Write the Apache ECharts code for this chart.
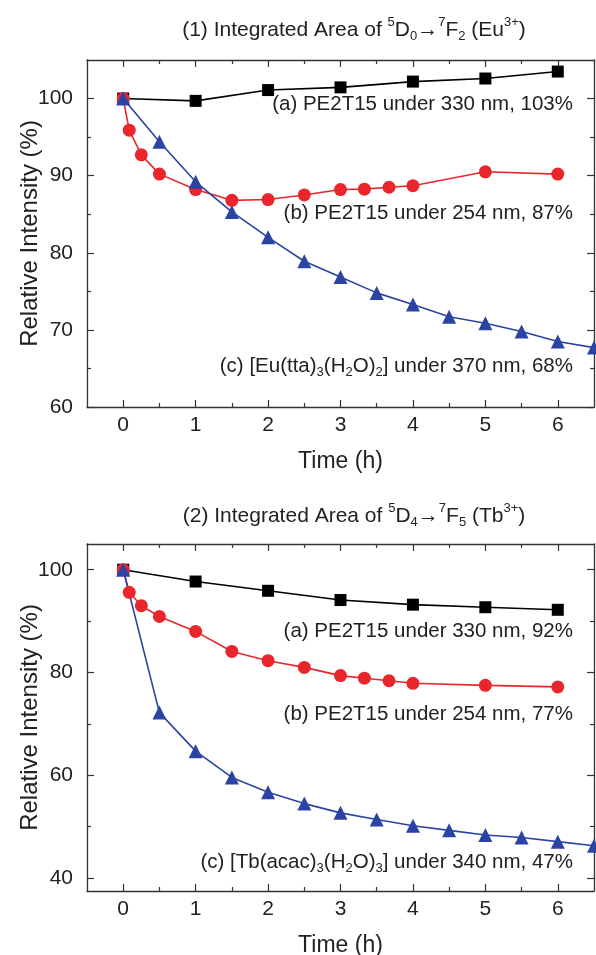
<!DOCTYPE html>
<html>
<head>
<meta charset="UTF-8">
<title></title>
<script src="https://cdn.jsdelivr.net/npm/echarts@6/dist/echarts.min.js"></script>
<style>
  html, body { margin: 0; padding: 0; background: #fff; }
</style>
</head>
<body>
<div id="main" style="width: 596px;height:955px;"></div>
<script type="text/javascript">
// time points (h)
var timeA = [0, 1, 2, 3, 4, 5, 6];
var timeB = [0, 0.083, 0.25, 0.5, 1, 1.5, 2, 2.5, 3, 3.33, 3.67, 4, 5, 6];
var timeC = [0, 0.5, 1, 1.5, 2, 2.5, 3, 3.5, 4, 4.5, 5, 5.5, 6, 6.5];

// (1) Eu3+ 5D0->7F2
var euA = [100, 99.7, 101.1, 101.45, 102.2, 102.6, 103.5];
var euB = [100, 95.9, 92.7, 90.2, 88.2, 86.8, 86.9, 87.5, 88.2, 88.25, 88.5, 88.7, 90.5, 90.2];
var euC = [100, 94.4, 89.2, 85.3, 82.0, 78.9, 76.85, 74.8, 73.3, 71.7, 70.85, 69.8, 68.5, 67.7];

// (2) Tb3+ 5D4->7F5
var tbA = [100, 97.7, 95.9, 94.1, 93.2, 92.7, 92.2];
var tbB = [100, 95.6, 93.0, 90.9, 88.0, 84.1, 82.3, 81.0, 79.4, 78.9, 78.4, 77.9, 77.5, 77.2];
var tbC = [100, 72.2, 64.7, 59.6, 56.7, 54.5, 52.7, 51.4, 50.2, 49.3, 48.4, 47.9, 47.1, 46.3];

// ticks
var xMajor = [0, 1, 2, 3, 4, 5, 6];
var xMinor = [0.5, 1.5, 2.5, 3.5, 4.5, 5.5];
var yMajor1 = [60, 70, 80, 90, 100];
var yMinor1 = [65, 75, 85, 95];
var yMajor2 = [40, 60, 80, 100];
var yMinor2 = [50, 70, 90];

var FONT = 'Liberation Sans, Arial, sans-serif';
var AX = '#333';

function pairs(xs, ys) {
  var out = [];
  for (var i = 0; i < xs.length; i++) out.push([xs[i], ys[i]]);
  return out;
}

function xAxes(g) {
  var base = { gridIndex: g, type: 'value', min: -0.5, max: 6.5, splitLine: { show: false } };
  var list = [];
  [['bottom', true], ['bottom', false], ['top', true], ['top', false]].forEach(function (p) {
    var major = p[1];
    var a = Object.assign({}, base, {
      position: p[0],
      axisLine: { show: major, onZero: false, lineStyle: { color: AX, width: 1.3 } },
      axisTick: { show: true, inside: true, length: major ? 7 : 4, customValues: major ? xMajor : xMinor, lineStyle: { color: AX, width: 1.2 } },
      axisLabel: { show: false }
    });
    if (major && p[0] === 'bottom') {
      a.axisLabel = { show: true, customValues: xMajor, fontSize: 21, fontFamily: FONT, color: '#222', margin: 8 };
      a.name = 'Time (h)';
      a.nameLocation = 'middle';
      a.nameGap = 43;
      a.nameMoveOverlap = false;
      a.nameTextStyle = { fontSize: 23, fontFamily: FONT, color: '#222' };
    }
    list.push(a);
  });
  return list;
}

function yAxes(g, min, max, major, minor) {
  var list = [];
  [['left', true], ['left', false], ['right', true], ['right', false]].forEach(function (p) {
    var isMajor = p[1];
    var a = {
      gridIndex: g, type: 'value', min: min, max: max, position: p[0],
      splitLine: { show: false },
      axisLine: { show: isMajor, onZero: false, lineStyle: { color: AX, width: 1.3 } },
      axisTick: { show: true, inside: true, length: isMajor ? 7 : 4, customValues: isMajor ? major : minor, lineStyle: { color: AX, width: 1.2 } },
      axisLabel: { show: false }
    };
    if (isMajor && p[0] === 'left') {
      a.axisLabel = { show: true, customValues: major, fontSize: 21, fontFamily: FONT, color: '#222', margin: 14 };
      a.name = 'Relative Intensity (%)';
      a.nameLocation = 'middle';
      a.nameGap = 45;
      a.nameMoveOverlap = false;
      a.nameTextStyle = { fontSize: 24, fontFamily: FONT, color: '#222' };
    }
    list.push(a);
  });
  return list;
}

function line(g, xs, ys, sym, size, color) {
  return {
    type: 'line', xAxisIndex: g * 4, yAxisIndex: g * 4,
    data: pairs(xs, ys),
    symbol: sym, symbolSize: size, showAllSymbol: true,
    itemStyle: { color: color, borderWidth: 0 },
    lineStyle: { color: color, width: 1.6 }
  };
}

var rich = {
  sup: { fontSize: 13, fontFamily: FONT, fill: '#222', padding: [0, 0, 15, 0] },
  sub: { fontSize: 13, fontFamily: FONT, fill: '#222', padding: [12, 0, 0, 0] }
};

function label(x, y, text, align, size) {
  return {
    type: 'text', x: x, y: y, silent: true,
    style: {
      text: text, rich: rich, align: align, verticalAlign: 'middle',
      fontSize: size, fontFamily: FONT, fill: '#222'
    }
  };
}

var myChart = echarts.init(document.getElementById('main'), null, { renderer: 'canvas' });

myChart.setOption({
  animation: false,
  backgroundColor: '#fff',
  grid: [
    { left: 87, right: 2, top: 60, height: 347, containLabel: false, outerBoundsMode: 'none' },
    { left: 87, right: 2, top: 544, height: 347, containLabel: false, outerBoundsMode: 'none' }
  ],
  xAxis: xAxes(0).concat(xAxes(1)),
  yAxis: yAxes(0, 60, 105, yMajor1, yMinor1).concat(yAxes(1, 37.5, 105, yMajor2, yMinor2)),
  series: [
    line(0, timeA, euA, 'rect', 12, '#000000'),
    line(0, timeB, euB, 'circle', 13, '#e8262b'),
    line(0, timeC, euC, 'triangle', 14, '#2b44a3'),
    line(1, timeA, tbA, 'rect', 12, '#000000'),
    line(1, timeB, tbB, 'circle', 13, '#e8262b'),
    line(1, timeC, tbC, 'triangle', 14, '#2b44a3')
  ],
  graphic: [
    label(354, 30, '(1) Integrated Area of {sup|5}D{sub|0}\u2192{sup|7}F{sub|2} (Eu{sup|3+})', 'center', 21),
    label(573, 104, '(a) PE2T15 under 330 nm, 103%', 'right', 20.5),
    label(573, 213, '(b) PE2T15 under 254 nm, 87%', 'right', 20.5),
    label(573, 366, '(c) [Eu(tta){sub|3}(H{sub|2}O){sub|2}] under 370 nm, 68%', 'right', 20.5),
    label(354, 516, '(2) Integrated Area of {sup|5}D{sub|4}\u2192{sup|7}F{sub|5} (Tb{sup|3+})', 'center', 21),
    label(573, 631, '(a) PE2T15 under 330 nm, 92%', 'right', 20.5),
    label(573, 714, '(b) PE2T15 under 254 nm, 77%', 'right', 20.5),
    label(573, 862, '(c) [Tb(acac){sub|3}(H{sub|2}O){sub|3}] under 340 nm, 47%', 'right', 20.5)
  ]
});
</script>
</body>
</html>
